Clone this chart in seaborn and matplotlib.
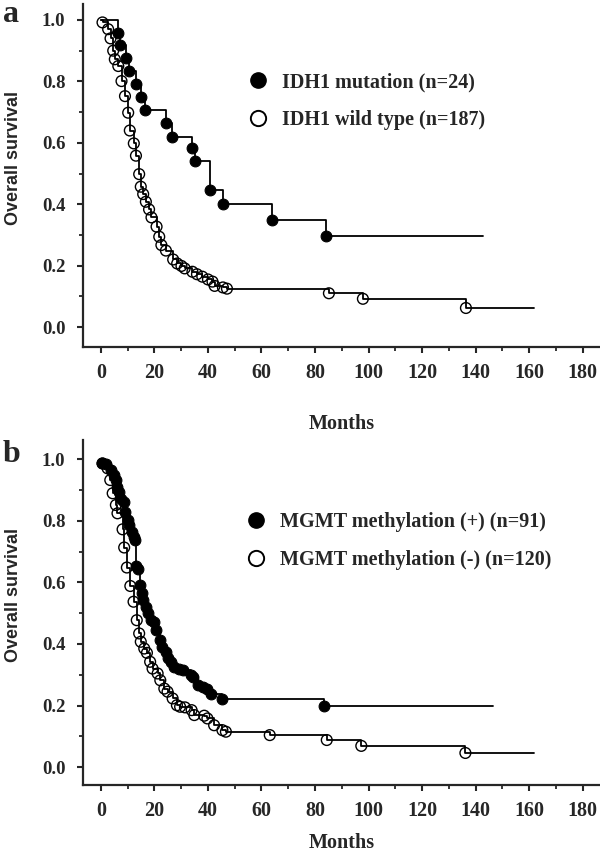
import numpy as np
import pandas as pd
import matplotlib
matplotlib.use('Agg')
import matplotlib.pyplot as plt
from matplotlib.lines import Line2D
from matplotlib.ticker import MultipleLocator
import seaborn as sns

# ─── Données ────────────────────────────────────────────────────────────────
# Panel a : IDH1
mut_t = [6.5, 7.1, 9.2, 10.4, 13.1, 14.9, 16.4, 24.3, 26.6, 34.2, 35.1, 40.7,
         45.6, 63.9, 84.0]
mut_s = [0.959, 0.917, 0.875, 0.833, 0.792, 0.750, 0.708, 0.665, 0.620, 0.582,
         0.540, 0.445, 0.400, 0.347, 0.295]
mut_end = 142.7

wt_t = [0.6, 2.7, 3.6, 4.6, 5.2, 6.5, 7.7, 9.0, 10.2, 10.8, 12.3, 13.1, 14.3,
        14.9, 15.8, 16.8, 18.0, 18.9, 20.8, 21.8, 22.6, 24.3, 27.0, 28.5, 30.1,
        31.3, 34.2, 35.9, 37.9, 40.0, 41.7, 42.5, 45.6, 47.1, 85.2, 97.9, 136.4]
wt_s = [0.992, 0.970, 0.940, 0.900, 0.872, 0.850, 0.801, 0.752, 0.698, 0.640,
        0.598, 0.558, 0.498, 0.457, 0.433, 0.408, 0.383, 0.357, 0.327, 0.294,
        0.267, 0.249, 0.220, 0.207, 0.199, 0.191, 0.180, 0.172, 0.164, 0.155,
        0.148, 0.134, 0.129, 0.125, 0.110, 0.092, 0.062]
wt_end = 162.0

# Panel b : MGMT
pos_t = [0.5, 1.9, 3.7, 5.0, 5.6, 6.2, 6.9, 7.5, 8.5, 9.0, 10.0, 10.6, 11.5,
         12.2, 12.8, 13.2, 13.7, 14.7, 15.2, 15.9, 16.8, 17.7, 18.7, 19.7, 20.5,
         22.2, 23.0, 24.3, 25.2, 26.1, 27.4, 29.3, 30.5, 33.6, 34.6, 36.1, 38.0,
         39.8, 41.1, 45.4, 83.5]
pos_s = [0.988, 0.984, 0.966, 0.948, 0.932, 0.910, 0.894, 0.872, 0.861, 0.829,
         0.802, 0.786, 0.764, 0.748, 0.737, 0.652, 0.642, 0.591, 0.564, 0.542,
         0.521, 0.499, 0.477, 0.472, 0.445, 0.412, 0.391, 0.374, 0.353, 0.342,
         0.326, 0.320, 0.315, 0.299, 0.291, 0.266, 0.261, 0.255, 0.237, 0.222,
         0.198]
pos_end = 146.6

neg_t = [0.6, 2.5, 3.5, 4.4, 5.6, 6.2, 8.1, 8.7, 9.7, 11.0, 12.2, 13.4, 14.3,
         14.9, 16.2, 17.2, 18.4, 19.3, 21.2, 22.2, 23.7, 24.9, 26.8, 28.4, 29.6,
         31.4, 33.9, 34.9, 38.6, 39.8, 42.3, 45.4, 46.7, 63.1, 84.4, 97.3, 136.2]
neg_s = [0.986, 0.970, 0.932, 0.889, 0.851, 0.824, 0.772, 0.713, 0.648, 0.588,
         0.537, 0.477, 0.434, 0.407, 0.385, 0.371, 0.342, 0.320, 0.304, 0.282,
         0.255, 0.245, 0.223, 0.201, 0.196, 0.194, 0.185, 0.169, 0.167, 0.158,
         0.136, 0.120, 0.115, 0.104, 0.088, 0.069, 0.046]
neg_end = 162.0

labels_a = ['IDH1 mutation (n=24)', 'IDH1 wild type (n=187)']
labels_b = ['MGMT methylation (+) (n=91)', 'MGMT methylation (-) (n=120)']
x_ticks = list(range(0, 181, 20))
y_ticks = [0.0, 0.2, 0.4, 0.6, 0.8, 1.0]

# ─── Style ──────────────────────────────────────────────────────────────────
sns.set_style('ticks')
SERIF = 'Liberation Serif'
SANS = 'Liberation Sans'
plt.rcParams.update({
    'font.family': [SERIF, 'DejaVu Serif'],
    'axes.linewidth': 1.6,
    'xtick.major.width': 1.5, 'ytick.major.width': 1.5,
    'xtick.minor.width': 1.3, 'ytick.minor.width': 1.3,
    'xtick.major.size': 4.5, 'ytick.major.size': 4.5,
    'xtick.minor.size': 3.0, 'ytick.minor.size': 3.0,
    'xtick.direction': 'out', 'ytick.direction': 'out',
})

W, H = 600, 855
fig = plt.figure(figsize=(W / 100, H / 100), dpi=100)


def km_frame(t, s, end):
    tt = [0.0] + list(t) + [end]
    ss = [1.0] + list(s) + [s[-1]]
    return pd.DataFrame({'Months': tt, 'Survie': ss})


def draw_panel(rect, curves, labels, ylim, leg_xy, letter, letter_y, xlab_pad):
    x0, y0, x1, y1 = rect
    ax = fig.add_axes([x0 / W, 1 - y1 / H, (x1 - x0) / W, (y1 - y0) / H])
    for (t, s, end, filled) in curves:
        df = km_frame(t, s, end)
        sns.lineplot(data=df, x='Months', y='Survie', drawstyle='steps-post',
                     sort=False, estimator=None, color='black', linewidth=1.3,
                     ax=ax, zorder=2)
        pts = pd.DataFrame({'Months': t, 'Survie': s})
        if filled:
            sns.scatterplot(data=pts, x='Months', y='Survie', s=60, color='black',
                            edgecolor='black', linewidth=0.8, ax=ax, zorder=3)
        else:
            sns.scatterplot(data=pts, x='Months', y='Survie', s=60,
                            facecolor='none', edgecolor='black', linewidth=1.0,
                            ax=ax, zorder=3)
    ax.set_xlim(-6.8, 186.5)
    ax.set_ylim(*ylim)
    ax.set_xticks(x_ticks)
    ax.set_yticks(y_ticks)
    ax.xaxis.set_minor_locator(MultipleLocator(10))
    ax.yaxis.set_minor_locator(MultipleLocator(0.1))
    ax.set_xticklabels([str(v) for v in x_ticks], fontsize=14.5,
                       fontweight='bold', family=SERIF)
    ax.set_yticklabels([f'{v:.1f}' for v in y_ticks], fontsize=13.5,
                       fontweight='bold', family=SERIF)
    ax.tick_params(axis='x', which='major', pad=7)
    ax.tick_params(axis='y', which='major', pad=8)
    sns.despine(ax=ax)
    ax.set_xlabel('Months', fontsize=14.5, fontweight='bold', family=SERIF,
                  labelpad=xlab_pad)
    ax.set_ylabel('Overall survival', fontsize=13, fontweight='bold',
                  family=SANS)
    ax.yaxis.set_label_coords(-0.118, 0.55)

    handles = [
        Line2D([], [], linestyle='none', marker='o', markersize=11,
               markerfacecolor='black', markeredgecolor='black'),
        Line2D([], [], linestyle='none', marker='o', markersize=11,
               markerfacecolor='white', markeredgecolor='black',
               markeredgewidth=1.4),
    ]
    ax.legend(handles, labels, loc='upper left', frameon=False,
              bbox_to_anchor=(leg_xy[0] / W, 1 - leg_xy[1] / H),
              bbox_transform=fig.transFigure, borderpad=0, borderaxespad=0,
              handlelength=1.0, handletextpad=0.7, labelspacing=0.88,
              prop={'family': SERIF, 'weight': 'bold', 'size': 14.5})
    fig.text(3 / W, 1 - letter_y / H, letter, fontsize=23, fontweight='bold',
             family=SERIF, va='baseline', ha='left')
    return ax


draw_panel((82.7, 4, 600, 347),
           [(mut_t, mut_s, mut_end, True), (wt_t, wt_s, wt_end, False)],
           labels_a, (-0.065, 1.052), (248, 72), 'a', 22, 22)
draw_panel((82.7, 440, 600, 785),
           [(pos_t, pos_s, pos_end, True), (neg_t, neg_s, neg_end, False)],
           labels_b, (-0.058, 1.062), (246, 512), 'b', 462, 9)

fig.savefig('out.png', dpi=100)
